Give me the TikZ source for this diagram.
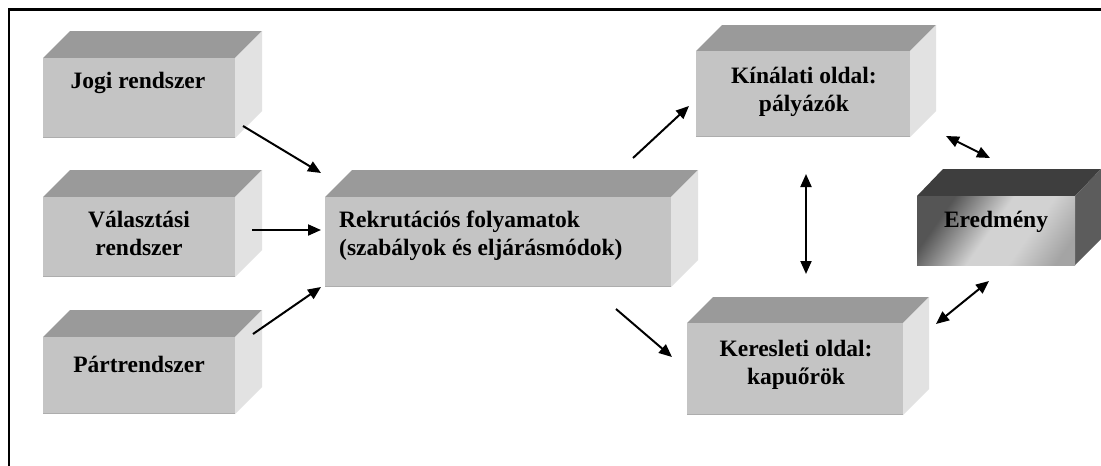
\documentclass[tikz,border=0pt]{standalone}
\usepackage{fontspec}
\setmainfont{Liberation Serif}
\usetikzlibrary{arrows.meta}
\definecolor{frontc}{HTML}{C4C4C4}
\definecolor{topc}{HTML}{9A9A9A}
\definecolor{sidec}{HTML}{E2E2E2}
\definecolor{edgec}{HTML}{ADADAD}
\definecolor{darktop}{HTML}{3E3E3E}
\definecolor{darkside}{HTML}{5C5C5C}
\definecolor{shA}{HTML}{A4A4A4}
\definecolor{shB}{HTML}{D2D2D2}
\definecolor{shC}{HTML}{555555}
\pgfdeclarehorizontalshading{eredsh}{100bp}{color(0bp)=(shC); color(28bp)=(shC); color(48bp)=(shB); color(62bp)=(shB); color(78bp)=(shA); color(100bp)=(shA)}
\tikzset{
  lbl/.style={font=\bfseries\fontsize{23.5}{28}\selectfont, align=center, inner sep=0pt},
  conn/.style={line width=2pt, -{Triangle[length=13pt,width=11pt]}},
  dconn/.style={line width=2pt, {Triangle[length=13pt,width=11pt]}-{Triangle[length=13pt,width=11pt]}},
  frame/.style={line width=2.5pt},
}
% #1 name, #2 x1, #3 y1, #4 x2, #5 y2, #6 depth, #7 top colour, #8 side colour
\newcommand{\cubebox}[8]{%
  \fill[#7] (#2,#3) -- ++(#6,-#6) -- (#4+#6,#3-#6) -- (#4,#3) -- cycle;
  \fill[#8] (#4,#3) -- (#4+#6,#3-#6) -- (#4+#6,#5-#6) -- (#4,#5) -- cycle;
  \node[fill=frontc, inner sep=0pt, outer sep=0pt, anchor=north west,
        minimum width=#4-#2, minimum height=#5-#3] (#1) at (#2,#3) {};
  \draw[edgec, line width=1.5pt] (#2,#5-0.75) -- (#4,#5-0.75);
}
\begin{document}
\begin{tikzpicture}[x=1pt,y=-1pt]
\useasboundingbox (0,0) rectangle (1101,466);
\fill[white] (0,0) rectangle (1101,466);
% frame
\coordinate (fbl) at (9,470);
\coordinate (ftl) at (9,9.5);
\coordinate (ftr) at (1105,9.5);
\draw[frame] (fbl) -- (ftl) -- (ftr);

% boxes
\cubebox{jogi}{43}{58}{235}{138}{27}{topc}{sidec}
\cubebox{valaszt}{43}{197}{235}{277}{27}{topc}{sidec}
\cubebox{part}{43}{337}{235}{414}{27}{topc}{sidec}
\cubebox{rekr}{325}{197}{671}{287}{27}{topc}{sidec}
\cubebox{kinal}{696}{51}{910}{137}{26}{topc}{sidec}
\cubebox{keres}{687}{323}{903}{415}{26}{topc}{sidec}
% Eredmény box (dark, shaded front)
\fill[darktop] (917,196) -- (943,169) -- (1101,169) -- (1075,196) -- cycle;
\fill[darkside] (1075,196) -- (1101,169) -- (1101,239) -- (1075,265) -- cycle;
\shade[shading=eredsh, shading angle=-35] (917,196) rectangle (1075,265);
\node[inner sep=0pt, outer sep=0pt, minimum width=158pt, minimum height=69pt, anchor=north west] (ered) at (917,196) {};

% labels
\node[lbl] (jogit) at (138,83) {Jogi rendszer};
\node[lbl] (valasztt) at (139,233) {Választási\\rendszer};
\node[lbl] (partt) at (139,364) {Pártrendszer};
\node[lbl, align=left, anchor=west] (rekrt) at (339,236) {Rekrutációs folyamatok\\(szabályok és eljárásmódok)};
\node[lbl] (kinalt) at (804,92) {Kínálati oldal:\\pályázók};
\node[lbl] (kerest) at (796,365) {Keresleti oldal:\\kapuőrök};
\node[lbl] (eredt) at (996,222) {Eredmény};

% connector end points
\coordinate (a1s) at (243,126);
\coordinate (a1e) at (321,173);
\coordinate (a2s) at (252,230);
\coordinate (a2e) at (321,230);
\coordinate (a3s) at (253,334);
\coordinate (a3e) at (321,287);
\coordinate (a4s) at (633,158);
\coordinate (a4e) at (689,106);
\coordinate (a5s) at (616,309);
\coordinate (a5e) at (672,357);
\coordinate (a6s) at (806,174);
\coordinate (a6e) at (806,274);
\coordinate (a7s) at (946,136);
\coordinate (a7e) at (990,158);
\coordinate (a8s) at (936,324);
\coordinate (a8e) at (989,281);

\draw[conn] (a1s) -- (a1e);
\draw[conn] (a2s) -- (a2e);
\draw[conn] (a3s) -- (a3e);
\draw[conn] (a4s) -- (a4e);
\draw[conn] (a5s) -- (a5e);
\draw[dconn] (a6s) -- (a6e);
\draw[dconn] (a7s) -- (a7e);
\draw[dconn] (a8s) -- (a8e);
\end{tikzpicture}
\end{document}
